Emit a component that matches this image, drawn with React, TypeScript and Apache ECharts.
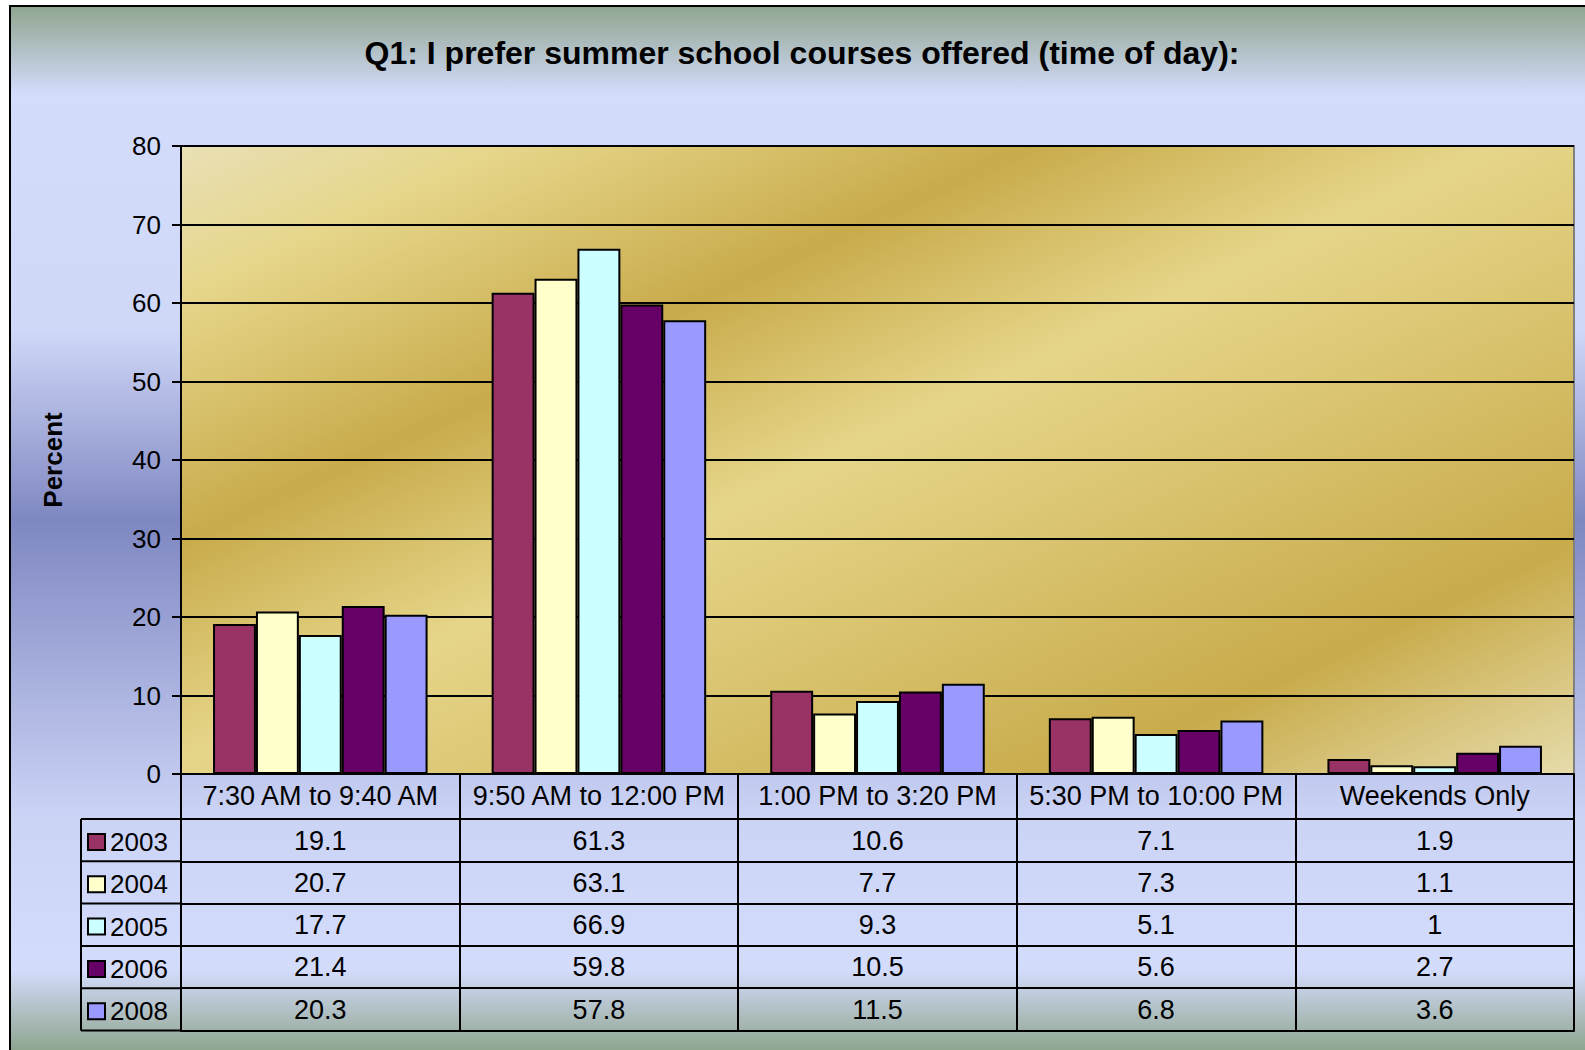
import React, { useEffect, useRef } from "react";
import * as echarts from "echarts";

// ---- data ----
const TITLE = "Q1: I prefer summer school courses offered (time of day):";
const Y_NAME = "Percent";
const CATEGORIES = [
  "7:30 AM to 9:40 AM",
  "9:50 AM to 12:00 PM",
  "1:00 PM to 3:20 PM",
  "5:30 PM to 10:00 PM",
  "Weekends Only",
];
const YEARS = ["2003", "2004", "2005", "2006", "2008"];
const V2003 = [19.1, 61.3, 10.6, 7.1, 1.9];
const V2004 = [20.7, 63.1, 7.7, 7.3, 1.1];
const V2005 = [17.7, 66.9, 9.3, 5.1, 1];
const V2006 = [21.4, 59.8, 10.5, 5.6, 2.7];
const V2008 = [20.3, 57.8, 11.5, 6.8, 3.6];
const SERIES_VALUES = [V2003, V2004, V2005, V2006, V2008];
const COLORS = ["#993366", "#ffffcc", "#ccffff", "#660066", "#9999ff"];
const Y_MIN = 0;
const Y_MAX = 80;
const Y_STEP = 10;

// ---- layout ----
const W = 1585;
const H = 1050;
const GRID_L = 181;
const GRID_T = 146;
const GRID_W = 1393;
const GRID_H = 628;
const GRID_B = GRID_T + GRID_H;
const HEADER_H = 45;
const ROW_H = 42.3;
const TABLE_L = 81;
const FONT = '"Liberation Sans", Arial, Helvetica, sans-serif';
const TABLE_FS = 27;

export default function App() {
  const ref = useRef<HTMLDivElement>(null);

  useEffect(() => {
    if (!ref.current) return;
    const chart = echarts.init(ref.current, null, { renderer: "svg" });

    const rowAxes = SERIES_VALUES.map((vals, i) => ({
      type: "category",
      gridIndex: 0,
      position: "bottom",
      offset: HEADER_H + i * ROW_H,
      data: CATEGORIES,
      axisLine: { show: true, lineStyle: { color: "#000", width: 2 } },
      axisTick: { show: true, length: ROW_H, lineStyle: { color: "#000", width: 2 } },
      axisLabel: {
        show: true,
        interval: 0,
        margin: 8,
        fontSize: TABLE_FS,
        lineHeight: 27,
        color: "#000",
        fontFamily: FONT,
        formatter: (_v: string, idx: number) => String(vals[idx]),
      },
      splitLine: { show: false },
    }));

    const closingAxis = {
      type: "category",
      gridIndex: 0,
      position: "bottom",
      offset: HEADER_H + SERIES_VALUES.length * ROW_H,
      data: CATEGORIES,
      axisLine: { show: true, lineStyle: { color: "#000", width: 2 } },
      axisTick: { show: false },
      axisLabel: { show: false },
      splitLine: { show: false },
    };

    const tableTop = GRID_B + HEADER_H;
    const tableBottom = tableTop + SERIES_VALUES.length * ROW_H;
    const legendLines: any[] = [];
    for (let i = 0; i <= SERIES_VALUES.length; i++) {
      const y = tableTop + i * ROW_H;
      legendLines.push({
        type: "line",
        silent: true,
        z: 10,
        shape: { x1: TABLE_L, y1: y, x2: GRID_L, y2: y },
        style: { stroke: "#000", lineWidth: 2 },
      });
    }
    legendLines.push({
      type: "line",
      silent: true,
      z: 10,
      shape: { x1: TABLE_L, y1: tableTop, x2: TABLE_L, y2: tableBottom },
      style: { stroke: "#000", lineWidth: 2 },
    });

    const option: any = {
      animation: false,
      textStyle: { fontFamily: FONT },
      graphic: [
        {
          type: "rect",
          silent: true,
          z: -100,
          shape: { x: 10, y: 6, width: W + 40, height: H + 40 },
          style: {
            stroke: "#000",
            lineWidth: 2,
            fill: {
              type: "linear",
              x: 0,
              y: 6,
              x2: 0,
              y2: 1050,
              global: true,
              colorStops: [
                { offset: 0, color: "#8fa58f" },
                { offset: 0.085, color: "#d4dcfc" },
                { offset: 0.31, color: "#d0d8f8" },
                { offset: 0.492, color: "#7f87c2" },
                { offset: 0.78, color: "#ccd4f6" },
                { offset: 0.923, color: "#d4dcfc" },
                { offset: 1, color: "#8fa58f" },
              ],
            },
          },
        },
        {
          type: "text",
          silent: true,
          z: 10,
          x: 802,
          y: 53,
          style: {
            text: TITLE,
            font: `bold 32px ${FONT}`,
            fill: "#000",
            align: "center",
            verticalAlign: "middle",
            textAlign: "center",
            textVerticalAlign: "middle",
          },
        },
        ...legendLines,
      ],
      legend: {
        data: YEARS,
        orient: "vertical",
        left: 87,
        top: 829,
        padding: 0,
        itemWidth: 17,
        itemHeight: 16,
        itemGap: ROW_H - 26,
        icon: "rect",
        selectedMode: false,
        textStyle: { fontSize: 26, lineHeight: 26, color: "#000", fontFamily: FONT },
        itemStyle: { borderColor: "#000", borderWidth: 2 },
      },
      grid: {
        left: GRID_L,
        top: GRID_T,
        width: GRID_W,
        height: GRID_H,
        show: true,
        borderColor: "#808080",
        borderWidth: 2,
        backgroundColor: {
          type: "linear",
          x: 180,
          y: 146,
          x2: 670,
          y2: 1196,
          global: true,
          colorStops: [
            { offset: 0, color: "#e9e0b6" },
            { offset: 0.12, color: "#e6d68a" },
            { offset: 0.31, color: "#c8ab4b" },
            { offset: 0.48, color: "#e6d68a" },
            { offset: 0.82, color: "#c8ab4b" },
            { offset: 1, color: "#e6dcab" },
          ],
        },
      },
      xAxis: [
        {
          type: "category",
          gridIndex: 0,
          position: "bottom",
          data: CATEGORIES,
          axisLine: { show: true, lineStyle: { color: "#000", width: 2 } },
          axisTick: { show: true, length: HEADER_H, lineStyle: { color: "#000", width: 2 } },
          axisLabel: {
            show: true,
            interval: 0,
            margin: 8,
            fontSize: TABLE_FS,
            lineHeight: 27,
            color: "#000",
            fontFamily: FONT,
          },
          splitLine: { show: false },
        },
        ...rowAxes,
        closingAxis,
      ],
      yAxis: {
        type: "value",
        min: Y_MIN,
        max: Y_MAX,
        interval: Y_STEP,
        name: Y_NAME,
        nameLocation: "middle",
        nameRotate: 90,
        nameGap: 115,
        nameTextStyle: { fontSize: 26, fontWeight: "bold", color: "#000", fontFamily: FONT },
        axisLine: { show: true, lineStyle: { color: "#000", width: 2 } },
        axisTick: { show: true, length: 9, lineStyle: { color: "#000", width: 2 } },
        axisLabel: { fontSize: 26, color: "#000", margin: 20, fontFamily: FONT },
        splitLine: { show: true, lineStyle: { color: "#000", width: 2 } },
      },
      series: SERIES_VALUES.map((vals, i) => ({
        type: "bar",
        name: YEARS[i],
        data: vals,
        xAxisIndex: 0,
        yAxisIndex: 0,
        barGap: "0%",
        barCategoryGap: "23%",
        itemStyle: { color: COLORS[i], borderColor: "#000", borderWidth: 2 },
        emphasis: { disabled: true },
      })),
    };

    chart.setOption(option);
    return () => chart.dispose();
  }, []);

  return (
    <div
      ref={ref}
      style={{ position: "absolute", left: 0, top: 0, width: W, height: H, overflow: "hidden" }}
    />
  );
}
